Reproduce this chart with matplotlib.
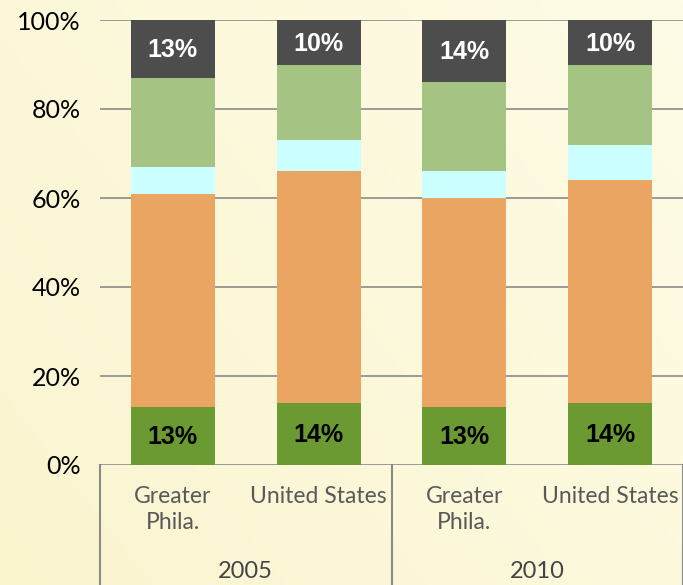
import matplotlib.pyplot as plt
import numpy as np

# ================ DATA ===================
categories = ['Greater\nPhila.', 'United States', 'Greater\nPhila.', 'United States']
years = ['2005', '2010']
seg_darkgreen = [13, 14, 13, 14]
seg_orange = [48, 52, 47, 50]
seg_cyan = [6, 7, 6, 8]
seg_lightgreen = [20, 17, 20, 18]
seg_gray = [13, 10, 14, 10]
yticks = [0, 20, 40, 60, 80, 100]

COLORS = [dkgreen, orange, cyan, ltgreen, gray] = ['#6A9A31', '#EBA562', '#CCFFFF', '#A5C382', '#4D4D4D']
BG = '#FDFADF'
LINE = '#8A8A8A'

fig = plt.figure(figsize=(6.83, 5.85), dpi=100)
fig.patch.set_facecolor(BG)

# subtle background gradient
bg = fig.add_axes([0, 0, 1, 1], zorder=-10)
gx, gy = np.meshgrid(np.linspace(0, 1, 200), np.linspace(0, 1, 200))
grad = 0.6 * gx + 0.4 * gy
bg.imshow(grad, cmap=plt.matplotlib.colors.LinearSegmentedColormap.from_list('bg', ['#FAF4CF', '#FEFCE6']),
          aspect='auto', extent=[0, 1, 0, 1], origin='lower')
bg.axis('off')

ax = fig.add_axes([100 / 683, 1 - 465 / 585, 1 - 100 / 683, (465 - 20) / 585])
ax.patch.set_alpha(0)

x = np.arange(len(categories))
w = 0.575
bottom = np.zeros(len(x))
for vals, col in zip([seg_darkgreen, seg_orange, seg_cyan, seg_lightgreen, seg_gray], COLORS):
    ax.bar(x, vals, w, bottom=bottom, color=col, zorder=3)
    bottom += np.array(vals)

for i in range(len(x)):
    ax.text(x[i], seg_darkgreen[i] / 2 - 0.3, '%d%%' % seg_darkgreen[i], ha='center', va='center',
            fontsize=18, fontweight='bold', family='Liberation Sans', color='black', zorder=4)
    ax.text(x[i], 100 - seg_gray[i] / 2 - 0.3, '%d%%' % seg_gray[i], ha='center', va='center',
            fontsize=18, fontweight='bold', family='Liberation Sans', color='white', zorder=4)

ax.set_xlim(-0.5, len(x) - 0.5)
ax.set_ylim(0, 100)
ax.set_yticks(yticks)
ax.set_yticklabels(['%d%%' % v for v in yticks], fontsize=18, family='Lato')
ax.tick_params(axis='y', length=0, pad=14)
ax.tick_params(axis='x', length=0, labelbottom=False)
for yv in yticks:
    ax.axhline(yv, color=LINE, lw=1.2, zorder=1)
for s in ax.spines.values():
    s.set_visible(False)

# category labels and group boxes
for i, lab in enumerate(categories):
    ax.text(x[i], -4.7, lab, ha='center', va='top', fontsize=16.5, family='Lato',
            color='#595959', linespacing=1.3, clip_on=False)
for g, yr in enumerate(years):
    ax.text(0.5 + 2 * g, -23.9, yr, ha='center', va='center', fontsize=17, family='Lato',
            color='#444444', clip_on=False)
for xv in [-0.5, 1.5, 3.5]:
    ax.plot([xv, xv], [0, -28], color=LINE, lw=1.5, clip_on=False, zorder=2)

fig.savefig('out.png', dpi=100, facecolor=fig.get_facecolor())
